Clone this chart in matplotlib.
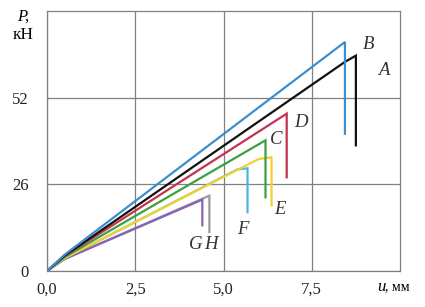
import numpy as np
import matplotlib
matplotlib.use("Agg")
import matplotlib.pyplot as plt

# ================= DATA =================
# each curve: u (mm), P (kN) -- rise, peak, drop after failure
names = ["A", "B", "C", "D", "E", "F", "G", "H"]
u_A = [0.0, 0.5, 8.45, 8.75, 8.75]
P_A = [0.0, 4.6, 62.8, 64.6, 37.7]
u_B = [0.0, 0.5, 8.44, 8.44]
P_B = [0.0, 4.9, 68.7, 41.2]
u_C = [0.0, 0.5, 6.19, 6.19]
P_C = [0.0, 4.2, 39.2, 22.1]
u_D = [0.0, 0.5, 6.79, 6.79]
P_D = [0.0, 4.5, 47.2, 28.1]
u_E = [0.0, 0.5, 6.0, 6.36, 6.36]
P_E = [0.0, 3.9, 33.6, 34.1, 19.7]
u_F = [0.0, 0.5, 5.4, 5.68, 5.68]
P_F = [0.0, 3.8, 30.5, 30.8, 17.6]
u_G = [0.0, 0.5, 4.4, 4.4]
P_G = [0.0, 3.6, 21.4, 13.7]
u_H = [0.0, 0.5, 4.6, 4.6]
P_H = [0.0, 3.6, 22.6, 11.7]

colors = {"A": "#111111", "B": "#3b8ed0", "C": "#3aa040", "D": "#c3334f",
          "E": "#f2d22e", "F": "#4cb4e0", "G": "#8a62b6", "H": "#9a9a9a"}

# label positions (u, P)
lab_pos = {"A": (9.55, 60.0), "B": (9.1, 68.0), "C": (6.5, 39.5), "D": (7.2, 44.5),
           "E": (6.6, 18.5), "F": (5.55, 12.5), "G": (4.2, 8.0), "H": (4.65, 8.0)}

x_ticks = [0.0, 2.5, 5.0, 7.5]
x_tick_labels = ["0,0", "2,5", "5,0", "7,5"]
y_ticks = [0, 26, 52]

# ================= PLOT =================
plt.rcParams["font.family"] = ["Liberation Serif", "DejaVu Serif"]

fig = plt.figure(figsize=(4.25, 3.07), dpi=100)
ax = fig.add_axes([0.1106, 0.1173, 0.8306, 0.8469])

data = {"A": (u_A, P_A), "B": (u_B, P_B), "C": (u_C, P_C), "D": (u_D, P_D),
        "E": (u_E, P_E), "F": (u_F, P_F), "G": (u_G, P_G), "H": (u_H, P_H)}

for n in ["H", "G", "F", "E", "C", "D", "A", "B"]:
    u, P = data[n]
    ax.plot(u, P, color=colors[n], lw=1.6, solid_joinstyle="miter")
    ax.text(*lab_pos[n], n, fontsize=13.5, style="italic", color="#333333",
            ha="center", va="center")

ax.set_xlim(0, 10)
ax.set_ylim(0, 78)
ax.set_xticks(x_ticks)
ax.set_xticklabels(x_tick_labels)
ax.set_yticks(y_ticks)
ax.tick_params(axis="x", length=0, labelsize=12, pad=8, colors="#222222")
ax.tick_params(axis="y", length=0, labelsize=12, pad=13, colors="#222222")
ax.grid(color="#808080", lw=0.9)
ax.set_axisbelow(True)
for s in ax.spines.values():
    s.set_color("#808080")
    s.set_linewidth(0.9)

fig.text(0.04, 0.945, "P,", fontsize=12, style="italic", ha="left", va="center")
fig.text(0.03, 0.885, "кН", fontsize=12.5, ha="left", va="center")
fig.text(0.897, 0.065, "u", fontsize=12, style="italic", ha="center", va="center")
fig.text(0.906, 0.065, ", мм", fontsize=10, ha="left", va="center")

plt.savefig("out.png", dpi=100)
plt.close()
